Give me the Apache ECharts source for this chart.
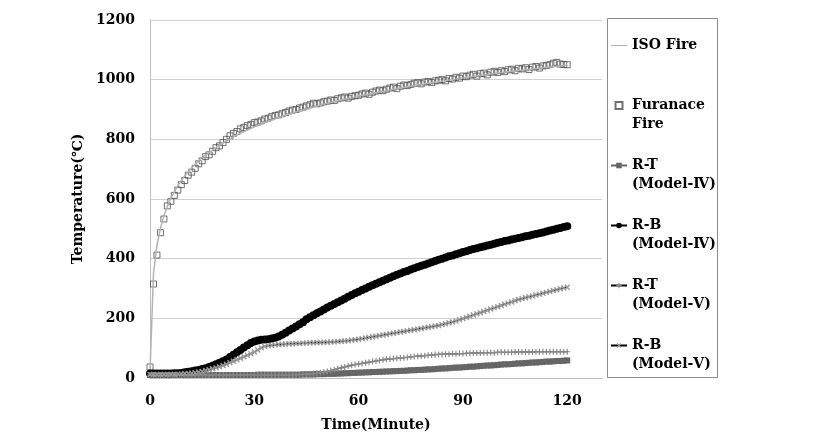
<!DOCTYPE html>
<html><head><meta charset="utf-8">
<script src="https://cdn.jsdelivr.net/npm/echarts@6/dist/echarts.min.js"></script>
<style>html,body{margin:0;padding:0;background:#fff}#c{width:815px;height:437px}</style>
</head><body><div id="c"></div>
<script>
// ISO 834 standard fire curve (read at selected minutes)
const isoMinutes = [0,1,2,3,4,5,6,8,10,12,15,20,25,30,35,40,45,50,55,60,70,80,90,100,110,120];
const isoTemps   = [20,349,445,502,544,576,603,645,678,705,739,781,815,842,865,885,902,918,932,945,968,988,1006,1022,1036,1049];

// Measured series, one value per minute (0..120)
const furnace = [37,315,412,487,533,577,592,612,630,648,
662,680,690,703,718,728,742,748,760,772,
778,789,800,812,820,826,835,840,846,850,
856,858,862,868,871,876,880,882,886,890,
895,898,900,905,908,912,916,921,919,922,
926,928,932,930,936,939,942,938,944,946,
948,952,955,951,958,962,965,963,968,972,
975,970,978,982,980,984,988,990,986,992,
994,990,996,998,1000,996,1004,1002,1008,1005,
1012,1010,1015,1018,1012,1020,1022,1016,1025,1028,
1024,1030,1027,1033,1035,1030,1038,1036,1040,1034,
1042,1044,1039,1046,1048,1050,1055,1058,1052,1051,
1050];

const rtModel4 = [10,10,10,10,10,10,10,10,10,10,
10,10,10,10,10,10,10,10,10,10,
10,10,10,10,10,10,10,10,10,10,
10,11,11,11,11,11,11,11,11,11,
11,11,11,11,12,12,12,12,13,13,
13,14,14,14,15,15,16,16,17,17,
18,18,19,19,20,20,21,21,22,22,
23,23,24,24,25,26,26,27,27,28,
29,29,30,31,32,32,33,34,35,35,
36,37,38,38,39,40,41,42,42,43,
44,45,46,46,47,48,49,49,50,51,
52,52,53,54,55,55,56,57,57,58,
59];

const rbModel4 = [15,15,15,15,15,15,15,16,16,17,
19,21,23,25,27,30,33,37,41,46,
51,56,62,70,78,86,94,102,110,117,
122,126,128,129,130,132,135,139,145,152,
159,166,173,180,187,197,204,210,217,223,
230,236,242,248,254,260,266,272,278,284,
289,295,300,306,311,316,321,326,331,336,
341,346,350,355,359,364,368,372,376,380,
384,388,392,396,400,404,408,411,415,418,
422,425,429,432,435,438,441,444,447,450,
453,456,459,461,464,467,469,472,475,477,
480,483,485,488,491,494,497,500,503,506,
509];

const rtModel5 = [10,10,10,10,10,10,10,10,10,10,
10,10,10,10,10,10,10,10,10,10,
10,10,10,10,10,10,10,10,10,10,
10,10,10,10,10,10,10,10,10,10,
10,10,11,11,12,13,14,15,16,18,
20,22,25,28,31,34,37,40,43,45,
47,49,51,53,55,57,59,61,63,64,
65,66,67,68,69,71,72,73,74,75,
76,77,78,79,79,80,80,81,81,82,
82,83,83,84,84,84,85,85,85,85,
86,86,86,86,86,87,87,87,87,87,
87,88,88,88,88,88,88,88,88,88,
88];

const rbModel5 = [12,12,12,12,12,12,12,12,13,13,
14,15,16,18,20,22,25,28,31,34,
38,42,46,51,56,61,66,71,76,81,
87,94,101,106,108,110,111,112,113,114,
115,115,116,116,117,117,118,118,119,119,
120,120,121,121,122,123,124,125,127,128,
130,132,134,136,138,140,142,144,146,148,
150,152,154,156,158,160,162,164,166,168,
170,172,174,176,179,182,185,188,191,195,
199,203,207,211,215,219,223,227,231,235,
239,243,247,251,255,259,263,266,269,272,
275,278,281,284,287,290,293,296,299,302,
304];

const seriesNames = ['ISO Fire','Furanace Fire','R-T (Model-Ⅳ)','R-B (Model-Ⅳ)','R-T (Model-Ⅴ)','R-B (Model-Ⅴ)'];
const legendLines = {
  'ISO Fire': '\nISO Fire\n',
  'Furanace Fire': '\nFuranace\nFire',
  'R-T (Model-Ⅳ)': '\nR-T\n(Model-Ⅳ)',
  'R-B (Model-Ⅳ)': '\nR-B\n(Model-Ⅳ)',
  'R-T (Model-Ⅴ)': '\nR-T\n(Model-Ⅴ)',
  'R-B (Model-Ⅴ)': '\nR-B\n(Model-Ⅴ)'
};
const xTicks = [0,30,60,90,120];

const minutes = furnace.map((_, i) => i);
const pairs = arr => minutes.map((m, i) => [m, arr[i]]);
const isoPairs = isoMinutes.map((m, i) => [m, isoTemps[i]]);

const FONT = '"DejaVu Serif", "Liberation Serif", serif';
const plusPath = 'path://M4,0H6V4H10V6H6V10H4V6H0V4H4Z';
const squarePath = 'path://M0,0H10V10H0Z';
const linePath = 'path://M0,0H32V2H0Z';
const labelStyle = {fontFamily: FONT, fontWeight: 'bold', fontSize: 14, color: '#000'};

const chart = echarts.init(document.getElementById('c'), null, {renderer: 'canvas'});
chart.setOption({
  animation: false,
  backgroundColor: '#fff',
  grid: {left: 150, right: 213, top: 20, bottom: 59, containLabel: false},
  xAxis: {
    type: 'value', min: 0, max: 130, interval: 30,
    name: 'Time(Minute)', nameLocation: 'middle', nameGap: 40,
    nameTextStyle: labelStyle,
    axisLine: {show: true, lineStyle: {color: '#bdbdbd', width: 1}},
    axisTick: {show: false},
    splitLine: {show: false},
    axisLabel: Object.assign({margin: 16, formatter: v => xTicks.includes(v) ? String(v) : ''}, labelStyle)
  },
  yAxis: {
    type: 'value', min: 0, max: 1200, interval: 200,
    name: 'Temperature(℃)', nameLocation: 'middle', nameGap: 52,
    nameTextStyle: labelStyle,
    axisLine: {show: true, lineStyle: {color: '#bdbdbd', width: 1}},
    axisTick: {show: false},
    splitLine: {show: true, lineStyle: {color: '#cfcfcf', width: 1}},
    axisLabel: Object.assign({margin: 15, formatter: v => String(v)}, labelStyle)
  },
  legend: {
    orient: 'vertical', left: 610, top: 17, padding: 0, itemGap: 3,
    itemWidth: 16, itemHeight: 7,
    data: [
      {name: seriesNames[0], icon: linePath, itemStyle: {color: '#b3b3b3'}},
      {name: seriesNames[1], icon: squarePath},
      seriesNames[2], seriesNames[3], seriesNames[4], seriesNames[5]
    ],
    formatter: n => legendLines[n],
    textStyle: {fontFamily: FONT, fontWeight: 'bold', fontSize: 14, lineHeight: 19, color: '#000'}
  },
  graphic: [{
    type: 'rect', silent: true, z: -1,
    shape: {x: 607.5, y: 18.5, width: 110, height: 359},
    style: {fill: 'none', stroke: '#8c8c8c', lineWidth: 1}
  }],
  series: [
    {name: seriesNames[0], type: 'line', data: isoPairs, symbol: 'none',
     lineStyle: {color: '#b3b3b3', width: 1.5}, itemStyle: {color: '#b3b3b3'}},
    {name: seriesNames[1], type: 'scatter', data: pairs(furnace), symbol: 'rect', symbolSize: 6,
     itemStyle: {color: 'rgba(255,255,255,0)', borderColor: '#4d4d4d', borderWidth: 1}},
    {name: seriesNames[2], type: 'line', data: pairs(rtModel4), symbol: 'rect', symbolSize: 6,
     itemStyle: {color: '#666666'}, lineStyle: {color: '#666666', width: 3}},
    {name: seriesNames[3], type: 'line', data: pairs(rbModel4), symbol: 'circle', symbolSize: 8,
     itemStyle: {color: '#000'}, lineStyle: {color: '#000', width: 2}},
    {name: seriesNames[4], type: 'line', data: pairs(rtModel5), symbol: plusPath, symbolSize: 6,
     itemStyle: {color: '#8a8a8a'}, lineStyle: {color: '#000', width: 1.2}},
    {name: seriesNames[5], type: 'line', data: pairs(rbModel5), symbol: plusPath, symbolSize: 7, symbolRotate: 45,
     itemStyle: {color: '#9a9a9a'}, lineStyle: {color: '#000', width: 1.5}}
  ]
});
</script>
</body></html>
